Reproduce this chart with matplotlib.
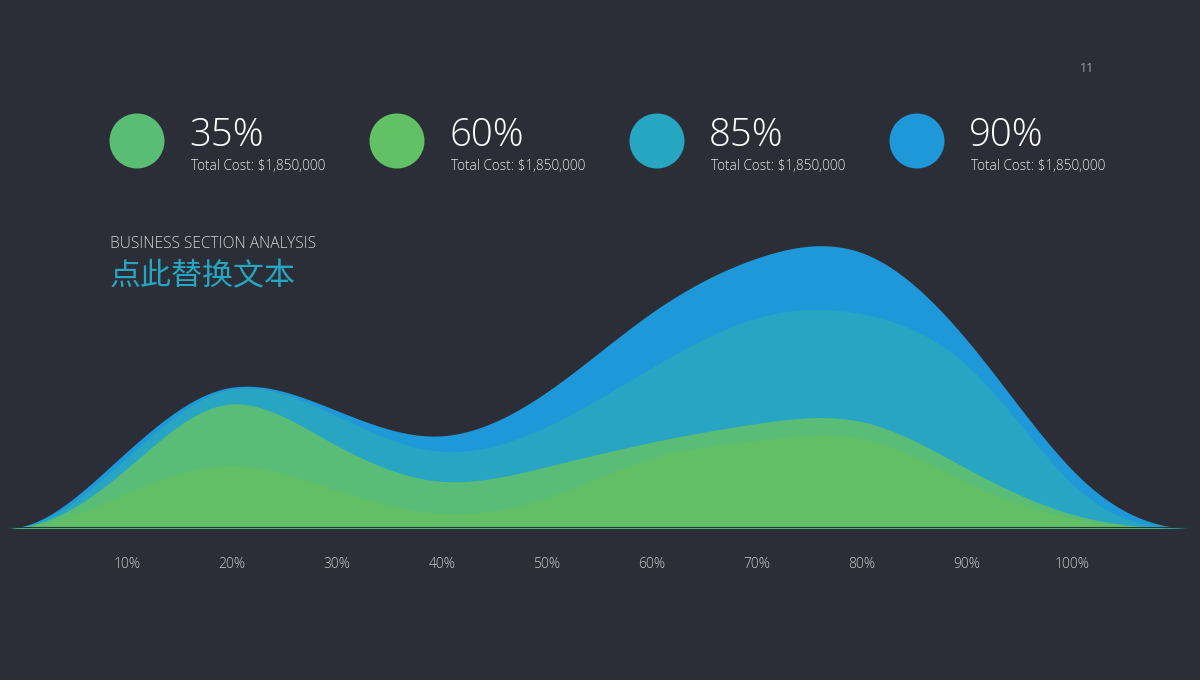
import numpy as np
import matplotlib.pyplot as plt
from matplotlib.patches import Circle

plt.rcParams['font.family'] = ['Open Sans', 'Noto Sans CJK SC', 'DejaVu Sans']

BG = '#2b2e36'

# KPI row
kpi_values = ['35%', '60%', '85%', '90%']
kpi_notes = ['Total Cost: $1,850,000'] * 4
kpi_colors = ['#5abd74', '#62c065', '#27a6c2', '#1f98d9']

# area chart (stacked series, bottom to top)
points = list(range(12))
s_green = [0, 30, 62, 40, 15, 30, 70, 88, 88, 42, 8, 0]
s_light = [0, 20, 61, 46, 32, 31, 16, 17, 17, 13, 3, 0]
s_teal = [0, 10, 14, 29, 30, 40, 75, 106, 108, 100, 24, 0]
s_blue = [0, 6, 2, 5, 15, 34, 55, 60, 60, 23, 13, 0]
series = [s_green, s_light, s_teal, s_blue]
area_colors = ['#62bf66', '#5abd77', '#27a5c2', '#1f98d9']
axis_labels = ['10%', '20%', '30%', '40%', '50%', '60%', '70%', '80%', '90%', '100%']


def smooth(y, n=40):
    # clamped cubic spline (flat ends), unit spacing
    y = np.asarray(y, float)
    k = len(y)
    A = np.zeros((k, k))
    b = np.zeros(k)
    A[0, 0], A[0, 1] = 2, 1
    b[0] = 6 * (y[1] - y[0])
    A[-1, -2], A[-1, -1] = 1, 2
    b[-1] = -6 * (y[-1] - y[-2])
    for i in range(1, k - 1):
        A[i, i-1:i+2] = [1, 4, 1]
        b[i] = 6 * (y[i+1] - 2*y[i] + y[i-1])
    M = np.linalg.solve(A, b)
    xs, ys = [], []
    for i in range(k - 1):
        t = np.linspace(0, 1, n, endpoint=False)
        u = 1 - t
        xs.append(i + t)
        ys.append(u*y[i] + t*y[i+1] + (u**3 - u)*M[i]/6 + (t**3 - t)*M[i+1]/6)
    xs.append([k - 1])
    ys.append([y[-1]])
    return np.concatenate(xs), np.clip(np.concatenate(ys), 0, None)


fig = plt.figure(figsize=(12, 6.8), dpi=100)
fig.patch.set_facecolor(BG)

# chart axes: 1 unit = 1 px vertically
ax = fig.add_axes([8/1200, 152/680, 1182/1200, 300/680])
ax.set_facecolor('none')
cum = np.zeros(len(points))
tops = []
for s in series:
    cum = cum + np.array(s)
    tops.append(cum.copy())
for top, col in reversed(list(zip(tops, area_colors))):
    xs, ys = smooth(top)
    ax.fill_between(xs, 0, ys, color=col, lw=0)
ax.axhline(0, color='#1d3a33', lw=1.5)
ax.set_xlim(0, 11)
ax.set_ylim(0, 300)
ax.axis('off')

# overlay for text and circles in pixel coordinates
ov = fig.add_axes([0, 0, 1, 1])
ov.set_xlim(0, 1200)
ov.set_ylim(680, 0)
ov.axis('off')
ov.set_facecolor('none')

for i, (v, note, col) in enumerate(zip(kpi_values, kpi_notes, kpi_colors)):
    cx = 137 + 260*i
    ov.add_patch(Circle((cx, 141), 27.5, color=col, lw=0))
    ov.text(cx + 52, 136, v, color='white', fontsize=27.5, fontweight='light',
            ha='left', va='center')
    ov.text(cx + 54, 166, note, color='#e6e6e6', fontsize=9.8, fontweight='light',
            ha='left', va='center')

ov.text(1087, 69, '11', color='#9a9ca2', fontsize=9, ha='center', va='center')
ov.text(110, 244, 'BUSINESS SECTION ANALYSIS', color='#d4d4d6', fontsize=11.2,
        fontweight='light', ha='left', va='center')
ov.text(110, 277, '点此替换文本', color='#27a6c2', fontsize=22.3,
        family=['Noto Sans CJK SC', 'DejaVu Sans'], fontweight='light',
        ha='left', va='center')

for i, lab in enumerate(axis_labels):
    ov.text(127 + 105*i, 564, lab, color='#c9cacc', fontsize=10,
            fontweight='light', ha='center', va='center')

fig.savefig('out.png', dpi=100, facecolor=BG)
